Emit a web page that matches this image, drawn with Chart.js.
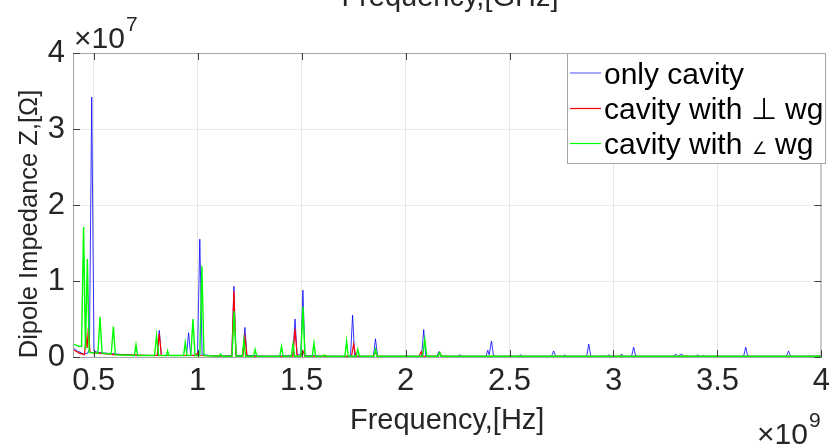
<!DOCTYPE html>
<html>
<head>
<meta charset="utf-8">
<script src="https://cdn.jsdelivr.net/npm/chart.js@4/dist/chart.umd.min.js"></script>
<style>
html,body{margin:0;padding:0;background:#fff;overflow:hidden;}
#wrap{position:relative;width:836px;height:447px;}
</style>
</head>
<body>
<div id="wrap"><canvas id="c" width="836" height="447"></canvas></div>
<script>
// ---- data (frequency in GHz, impedance in units of 1e7 Ohm) ----
const xTickValues = [0.5, 1, 1.5, 2, 2.5, 3, 3.5, 4];
const yTickValues = [0, 1, 2, 3, 4];
const seriesNames = ['only cavity', 'cavity with \u22A5 wg', 'cavity with \u2220 wg'];

const blueFreq = [0.40,0.42,0.45,0.47,0.479,0.490,0.501,0.52,0.56,0.65,0.75,0.805,0.815,0.825,0.90,0.946,0.956,0.966,0.999,1.010,1.021,1.10,1.164,1.174,1.184,1.217,1.227,1.237,1.35,1.458,1.468,1.478,1.496,1.506,1.516,1.65,1.735,1.745,1.755,1.845,1.855,1.865,2.077,2.087,2.097,2.152,2.160,2.168,2.25,2.26,2.27,2.387,2.395,2.402,2.413,2.423,2.545,2.554,2.563,2.702,2.712,2.722,2.757,2.765,2.773,2.871,2.881,2.891,2.969,2.977,2.985,3.031,3.039,3.047,3.087,3.097,3.107,3.291,3.299,3.310,3.328,3.336,3.397,3.405,3.413,3.426,3.434,3.442,3.626,3.636,3.646,3.832,3.842,3.852,3.983,3.991,4.0];
const blueVal  = [0.12,0.08,0.04,0.05,0.10,3.42,0.08,0.06,0.05,0.03,0.02,0.02,0.35,0.02,0.02,0.02,0.32,0.02,0.03,1.55,0.03,0.01,0.02,0.93,0.02,0.02,0.39,0.02,0.01,0.02,0.50,0.03,0.03,0.88,0.02,0.01,0.01,0.55,0.01,0.01,0.24,0.01,0.01,0.36,0.01,0.01,0.07,0.01,0.01,0.03,0.01,0.01,0.09,0.03,0.21,0.01,0.01,0.03,0.01,0.01,0.08,0.01,0.01,0.03,0.01,0.01,0.17,0.01,0.01,0.03,0.01,0.01,0.04,0.01,0.01,0.13,0.01,0.01,0.04,0.01,0.04,0.01,0.01,0.03,0.01,0.01,0.02,0.01,0.01,0.13,0.01,0.01,0.08,0.01,0.01,0.02,0.01];

const redFreq = [0.40,0.43,0.455,0.463,0.468,0.474,0.482,0.52,0.60,0.80,0.805,0.815,0.825,0.99,0.998,1.006,1.164,1.174,1.184,1.217,1.227,1.237,1.458,1.468,1.478,1.496,1.506,1.516,1.740,1.750,1.760,1.845,1.855,1.865,2.065,2.075,2.085,2.155,2.164,2.173,4.0];
const redVal  = [0.10,0.05,0.03,0.25,0.12,0.39,0.06,0.05,0.03,0.02,0.02,0.31,0.02,0.02,0.05,0.02,0.01,0.87,0.01,0.01,0.26,0.01,0.01,0.37,0.01,0.01,0.08,0.01,0.01,0.17,0.01,0.01,0.06,0.01,0.01,0.07,0.01,0.01,0.06,0.01,0.01];

const greenFreq = [0.40,0.43,0.441,0.451,0.460,0.469,0.478,0.52,0.530,0.540,0.584,0.594,0.604,0.695,0.703,0.711,0.792,0.802,0.812,0.849,0.855,0.861,0.932,0.940,0.948,0.967,0.977,0.987,1.010,1.020,1.030,1.103,1.110,1.117,1.165,1.175,1.185,1.214,1.222,1.230,1.268,1.276,1.284,1.395,1.403,1.411,1.450,1.458,1.466,1.496,1.506,1.516,1.551,1.559,1.567,1.603,1.610,1.617,1.708,1.716,1.724,1.762,1.770,1.778,1.847,1.855,1.863,2.082,2.092,2.102,2.156,2.164,2.172,4.0];
const greenVal  = [0.17,0.14,0.14,1.71,0.10,1.29,0.06,0.05,0.53,0.05,0.04,0.40,0.03,0.02,0.16,0.02,0.02,0.28,0.02,0.02,0.08,0.02,0.02,0.19,0.02,0.02,0.50,0.02,0.02,1.20,0.02,0.01,0.04,0.01,0.01,0.60,0.01,0.01,0.22,0.01,0.01,0.10,0.01,0.01,0.14,0.01,0.01,0.17,0.01,0.01,0.66,0.01,0.01,0.18,0.01,0.01,0.03,0.01,0.01,0.21,0.01,0.01,0.10,0.01,0.01,0.10,0.01,0.01,0.23,0.01,0.01,0.06,0.01,0.01];

const seriesColors = ['#0000ff', '#ff0000', '#00ff00'];

// ---- build ----
const FONT = "'Liberation Sans', Arial, Helvetica, sans-serif";
const toPts = (fs, vs) => fs.map((f, i) => ({x: f * 1e9, y: vs[i] * 1e7}));

const overlay = {
  id: 'overlay',
  afterDatasetsDraw(chart) {
    const {ctx, chartArea: a, scales} = chart;
    ctx.save();
    ctx.strokeStyle = '#a6a6a6';
    ctx.lineWidth = 1;
    ctx.strokeRect(a.left + 0.5, a.top + 0.5, a.right - a.left - 1, a.bottom - a.top);
    ctx.strokeStyle = '#404040';
    ctx.beginPath();
    scales.x.ticks.forEach(t => {
      const px = Math.round(scales.x.getPixelForValue(t.value)) + 0.5;
      ctx.moveTo(px, a.bottom); ctx.lineTo(px, a.bottom - 7);
      ctx.moveTo(px, a.top); ctx.lineTo(px, a.top + 7);
    });
    scales.y.ticks.forEach(t => {
      const py = Math.round(scales.y.getPixelForValue(t.value)) + 0.5;
      ctx.moveTo(a.left, py); ctx.lineTo(a.left + 7, py);
      ctx.moveTo(a.right, py); ctx.lineTo(a.right - 7, py);
    });
    ctx.stroke();
    ctx.restore();
  },
  afterDraw(chart) {
    const {ctx} = chart;
    ctx.save();
    ctx.fillStyle = '#262626';
    ctx.textBaseline = 'alphabetic';
    ctx.textAlign = 'left';
    // exponent labels
    ctx.font = '30px ' + FONT;
    ctx.fillText('\u00D710', 74, 48);
    ctx.font = '21px ' + FONT;
    ctx.fillText('7', 126, 31);
    ctx.font = '30px ' + FONT;
    ctx.fillText('\u00D710', 757, 444);
    ctx.font = '21px ' + FONT;
    ctx.fillText('9', 809, 427);
    // cut-off top title
    ctx.font = '29px ' + FONT;
    ctx.textAlign = 'center';
    ctx.fillText('Frequency,[GHz]', 450, 6);
    // y title
    ctx.save();
    ctx.translate(30, 224);
    ctx.rotate(-Math.PI / 2);
    ctx.textBaseline = 'middle';
    ctx.font = '25.5px ' + FONT;
    ctx.fillText('Dipole Impedance Z,[\u03A9]', 0, 0);
    ctx.restore();
    // legend
    const L = 567, T = 53, R = 826, B = 163;
    ctx.fillStyle = '#ffffff';
    ctx.fillRect(L, T, R - L, B - T);
    ctx.strokeStyle = '#a6a6a6';
    ctx.lineWidth = 1;
    ctx.strokeRect(L + 0.5, T + 0.5, R - L - 1, B - T);
    const rows = [73, 108, 143];
    ctx.textAlign = 'left';
    ctx.textBaseline = 'alphabetic';
    seriesNames.forEach((n, i) => {
      ctx.strokeStyle = seriesColors[i];
      ctx.lineWidth = i === 0 ? 0.7 : 1.2;
      ctx.beginPath();
      const ly = i === 0 ? rows[i] : rows[i] + 0.5;
      ctx.moveTo(570, ly); ctx.lineTo(601, ly);
      ctx.stroke();
      ctx.fillStyle = '#000';
      const base = rows[i] + 11;
      if (i === 2) {
        const parts = n.split('\u2220');
        ctx.font = '30px ' + FONT;
        ctx.fillText(parts[0], 604, base);
        let x = 604 + ctx.measureText(parts[0]).width;
        ctx.font = '17px ' + FONT;
        ctx.fillText('\u2220', x + 1, base);
        x += ctx.measureText('\u2220').width + 1;
        ctx.font = '30px ' + FONT;
        ctx.fillText(parts[1], x, base);
      } else {
        ctx.font = '30px ' + FONT;
        ctx.fillText(n, 604, base);
      }
    });
    ctx.restore();
  }
};

new Chart(document.getElementById('c'), {
  type: 'line',
  data: {
    datasets: [
      {label: seriesNames[0], data: toPts(blueFreq, blueVal), borderColor: seriesColors[0], borderWidth: 0.8, order: 2},
      {label: seriesNames[1], data: toPts(redFreq, redVal), borderColor: seriesColors[1], borderWidth: 1.2, order: 1},
      {label: seriesNames[2], data: toPts(greenFreq, greenVal), borderColor: seriesColors[2], borderWidth: 1.4, order: 0}
    ]
  },
  options: {
    responsive: false,
    animation: false,
    elements: {point: {radius: 0}, line: {tension: 0, fill: false}},
    layout: {padding: {top: 53, right: 11, left: 0, bottom: 0}},
    plugins: {legend: {display: false}, tooltip: {enabled: false}, title: {display: false}},
    scales: {
      x: {
        type: 'linear',
        min: 0.4e9, max: 4e9,
        afterBuildTicks: s => { s.ticks = xTickValues.map(v => ({value: v * 1e9})); },
        afterFit: s => { s.height = 90; },
        ticks: {
          callback: v => String(v / 1e9),
          color: '#262626', font: {family: FONT, size: 31}, padding: 6,
          maxRotation: 0, autoSkip: false
        },
        grid: {color: '#e6e6e6', drawTicks: false},
        border: {display: false},
        title: {display: true, text: 'Frequency,[Hz]', color: '#262626', font: {family: FONT, size: 29}, padding: {top: 0, bottom: 9}}
      },
      y: {
        type: 'linear',
        min: 0, max: 4e7,
        afterBuildTicks: s => { s.ticks = yTickValues.map(v => ({value: v * 1e7})); },
        afterFit: s => { s.width = 73; },
        ticks: {
          callback: v => String(v / 1e7),
          color: '#262626', font: {family: FONT, size: 31}, padding: 8
        },
        grid: {color: '#ececec', drawTicks: false},
        border: {display: false}
      }
    }
  },
  plugins: [overlay]
});
</script>
</body>
</html>
